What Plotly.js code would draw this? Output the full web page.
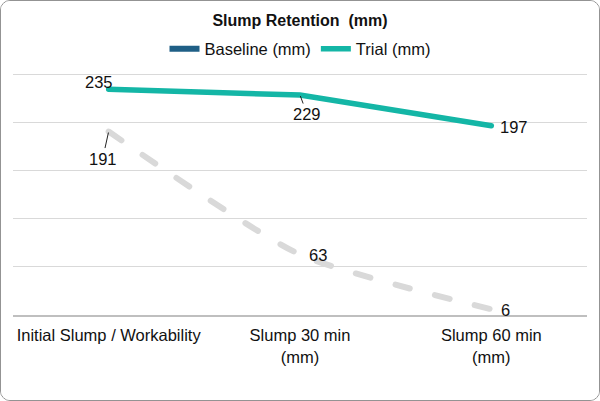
<!DOCTYPE html>
<html>
<head>
<meta charset="utf-8">
<script src="https://cdn.plot.ly/plotly-3.0.1.min.js"></script>
<style>
  html, body { margin: 0; padding: 0; background: #fff; }
  #frame {
    position: absolute; left: 0; top: 0;
    width: 598px; height: 399px;
    border: 1px solid #939393; border-radius: 10px; overflow: hidden;
  }
  #chart { width: 598px; height: 399px; }
  #chart .scatterlayer .js-line { stroke-linecap: round; }
</style>
</head>
<body>
<div id="frame"><div id="chart"></div></div>
<script>
// Slump readings per test stage
const categories = ['Initial Slump / Workability', 'Slump 30 min<br>(mm)', 'Slump 60 min<br>(mm)'];
const baselineValues = [191, 63, 6];
const trialValues = [235, 229, 197];

const font = 'Liberation Sans, Arial, sans-serif';
const fontSize = 16.5;
const baselineLegendColor = '#1f5f86';
const baselineLineColor = '#d9d9d9';
const trialColor = '#14b6a6';

const traces = [
  {
    // baseline curve (legend entry drawn separately)
    x: categories, y: baselineValues, type: 'scatter', mode: 'lines',
    line: { color: baselineLineColor, width: 6, dash: '15px,26px', shape: 'spline', smoothing: 0.6 },
    showlegend: false, hoverinfo: 'skip'
  },
  {
    x: [null], y: [null], type: 'scatter', mode: 'lines',
    name: 'Baseline (mm)', line: { color: baselineLegendColor, width: 6 }
  },
  {
    x: categories, y: trialValues, type: 'scatter', mode: 'lines',
    name: 'Trial (mm)', line: { color: trialColor, width: 5.5 }
  }
];

// value labels, placed relative to their data points
const labelSpecs = [
  { series: trialValues, i: 0, xshift: -10, yshift: 7, arrow: false },
  { series: trialValues, i: 1, ax: 7, ay: 19, arrow: true },
  { series: trialValues, i: 2, xshift: 23, yshift: -1, arrow: false },
  { series: baselineValues, i: 0, ax: -6, ay: 27, arrow: true },
  { series: baselineValues, i: 1, xshift: 18, yshift: -1, arrow: false },
  { series: baselineValues, i: 2, xshift: 14, yshift: -1, arrow: false }
];
const annotations = labelSpecs.map(s => {
  const a = {
    x: categories[s.i], y: s.series[s.i], xref: 'x', yref: 'y',
    text: String(s.series[s.i]),
    font: { family: font, size: fontSize, color: '#111' }
  };
  if (s.arrow) {
    Object.assign(a, { showarrow: true, arrowhead: 0, arrowwidth: 1, arrowcolor: '#222',
      ax: s.ax, ay: s.ay, standoff: 1, startstandoff: 0 });
  } else {
    Object.assign(a, { showarrow: false, xshift: s.xshift, yshift: s.yshift });
  }
  return a;
});

const layout = {
  width: 598, height: 399,
  margin: { l: 12, r: 12, t: 71, b: 85 },
  paper_bgcolor: '#fff', plot_bgcolor: '#fff',
  font: { family: font, size: fontSize, color: '#111' },
  title: {
    text: '<b>Slump Retention  (mm)</b>',
    font: { family: font, size: 16, color: '#111' },
    x: 0.5, xanchor: 'center', yref: 'container', y: 1 - 19 / 399, yanchor: 'middle'
  },
  legend: {
    orientation: 'h', x: 0.5, xanchor: 'center', y: 1 + 23 / 243, yanchor: 'middle',
    font: { family: font, size: fontSize, color: '#111' }, itemwidth: 30
  },
  xaxis: {
    type: 'category', range: [-0.5, 2.5],
    showline: true, linecolor: '#bfbfbf', linewidth: 1.5,
    showgrid: false, ticks: '', ticklabelstandoff: 5,
    tickfont: { family: font, size: fontSize, color: '#111' }
  },
  yaxis: {
    range: [0, 253], tickvals: [50, 100, 150, 200, 250], showticklabels: false,
    showgrid: true, gridcolor: '#d9d9d9', gridwidth: 1, zeroline: false, showline: false
  },
  annotations: annotations,
  showlegend: true
};

Plotly.newPlot('chart', traces, layout, { displayModeBar: false, staticPlot: true });
</script>
</body>
</html>
